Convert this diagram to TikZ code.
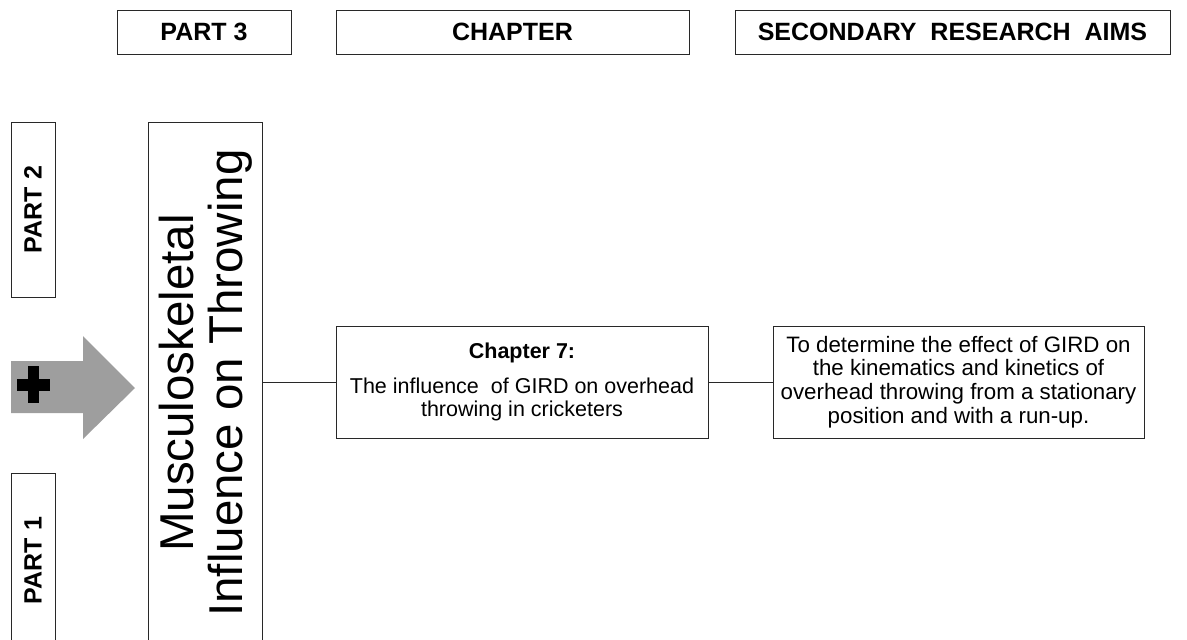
\documentclass[tikz,border=0pt]{standalone}
\usepackage{fontspec}
\setmainfont{Liberation Sans}
\definecolor{arrowgray}{RGB}{158,158,158}
\definecolor{edge}{RGB}{40,40,40}
\tikzset{
  framebox/.style={draw=edge, line width=1pt, fill=white, inner sep=0pt},
  headtext/.style={font=\fontsize{25}{30}\selectfont\bfseries},
  bodytext/.style={align=center, font=\fontsize{21.5}{23.6}\selectfont},
  aimtext/.style={align=center, font=\fontsize{22.3}{23.6}\selectfont},
  bigtext/.style={font=\fontsize{47.5}{50}\selectfont, inner sep=0pt, rotate=90, anchor=base},
  link/.style={draw=edge, line width=1pt}
}
\begin{document}
\begin{tikzpicture}[x=1pt,y=-1pt]
\useasboundingbox (0,0) rectangle (1187,640);
\clip (0,0) rectangle (1187,640);

% column headings
\node[framebox, headtext, minimum width=174pt, minimum height=44pt] (part3) at (204,32) {PART 3};
\node[framebox, headtext, minimum width=353pt, minimum height=44pt] (chap) at (512.5,32) {CHAPTER};
\node[framebox, headtext, minimum width=435pt, minimum height=44pt] (aims) at (952.5,32) {SECONDARY\ \ RESEARCH\ \ AIMS};

% side labels
\node[framebox, headtext, rotate=90, minimum width=175pt, minimum height=44pt] (part2) at (33,209.5) {PART 2};
\node[framebox, headtext, rotate=90, minimum width=175pt, minimum height=44pt] (part1) at (33,560.5) {PART 1};

% grey arrow with plus sign
\fill[arrowgray] (11,361) -- (83,361) -- (83,336) -- (135,388) -- (83,439) -- (83,413) -- (11,413) -- cycle;
\fill[black] (17,379) rectangle (50,391);
\fill[black] (28,366) rectangle (39,403);

% tall theme box
\node[framebox, rotate=90, minimum width=522pt, minimum height=114pt] (theme) at (205,383) {};
\node[bigtext] (themeA) at (193,383) {Musculoskeletal};
\node[bigtext] (themeB) at (242,383) {Influence on Throwing};

% chapter box
\node[framebox, bodytext, minimum width=372pt, minimum height=112pt] (ch7) at (522,382)
  {\textbf{Chapter 7:}\\[11.4pt]
   The influence\ \ of GIRD on overhead\\
   throwing in cricketers};

% aim box
\node[framebox, aimtext, minimum width=371pt, minimum height=112pt] (aim7) at (958.5,382)
  {To determine the effect of GIRD on\\
   the kinematics and kinetics of\\
   overhead throwing from a stationary\\
   position and with a run-up.};

% connectors
\draw[link] (ch7.west -| theme.south) -- (ch7.west);
\draw[link] (ch7.east) -- (aim7.west);
\end{tikzpicture}
\end{document}
